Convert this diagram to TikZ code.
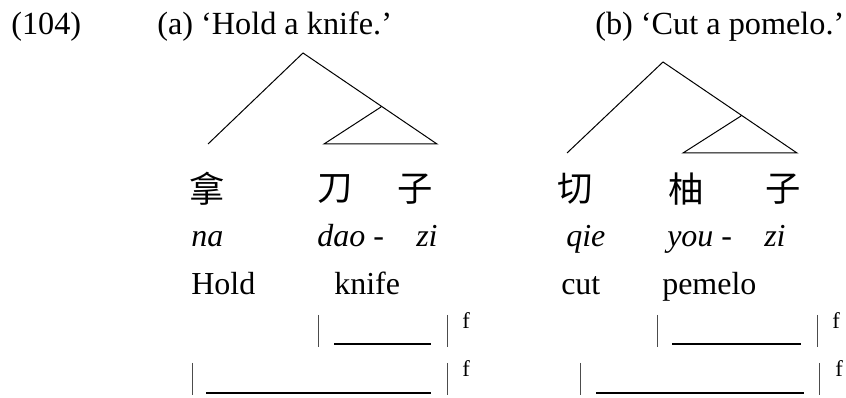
\documentclass[tikz,border=0pt]{standalone}
\usepackage{fontspec}
\setmainfont{Liberation Serif}
\newfontfamily\cjk{Noto Sans CJK SC}
\begin{document}
\begin{tikzpicture}[x=0.75pt,y=-0.75pt,
  txt/.style={inner sep=0pt, anchor=base west, font=\fontsize{24}{28}\selectfont},
  ttl/.style={inner sep=0pt, anchor=base west, font=\fontsize{24.2}{28}\selectfont},
  itx/.style={inner sep=0pt, anchor=base west, font=\fontsize{24}{28}\selectfont\itshape},
  han/.style={inner sep=0pt, anchor=center, font=\fontsize{26.5}{30}\selectfont\cjk},
  supf/.style={inner sep=0pt, anchor=base west, font=\fontsize{17}{20}\selectfont},
  branch/.style={line width=0.75pt},
  uline/.style={line width=1.6pt},
  barline/.style={line width=0.7pt, black!70}]
\useasboundingbox (0,0) rectangle (846,398);
% titles
\node[ttl] (num) at (11,35) {(104)};
\node[ttl] (ta) at (157,35) {(a) ‘Hold a knife.’};
\node[ttl] (tb) at (595,35) {(b) ‘Cut a pomelo.’};
% tree a
\coordinate (aR) at (303,53);
\coordinate (aN) at (381,107);
\coordinate (aL1) at (208,144);
\coordinate (aL2) at (324,144);
\coordinate (aL3) at (437,144);
\draw[branch] (aL1) -- (aR) -- (aL3) -- (aL2) -- (aN);
% tree b
\coordinate (bR) at (663,62);
\coordinate (bN) at (741,116);
\coordinate (bL1) at (567,153);
\coordinate (bL2) at (683,153);
\coordinate (bL3) at (797,153);
\draw[branch] (bL1) -- (bR) -- (bL3) -- (bL2) -- (bN);
% chinese
\node[han] (na) at (207,189) {拿};
\node[han] (dao) at (335,189) {刀};
\node[han] (zia) at (415,189) {子};
\node[han] (qie) at (575,189) {切};
\node[han] (you) at (686,189) {柚};
\node[han] (zib) at (783,189) {子};
% pinyin
\node[itx] (pna) at (191,247) {na};
\node[itx] (pdao) at (317,247) {dao -};
\node[itx] (pzia) at (416,247) {zi};
\node[itx] (pqie) at (566,247) {qie};
\node[itx] (pyou) at (667,247) {you -};
\node[itx] (pzib) at (764,247) {zi};
% gloss
\node[txt] (ghold) at (191,295) {Hold};
\node[txt] (gknife) at (334,295) {knife};
\node[txt] (gcut) at (561,295) {cut};
\node[txt] (gpem) at (662,295) {pemelo};
% bracket rows a
\coordinate (a1lt) at (318,315); \coordinate (a1lb) at (318,347);
\coordinate (a1rt) at (447,315); \coordinate (a1rb) at (447,347);
\coordinate (a1us) at (334,344); \coordinate (a1ue) at (431,344);
\draw[barline] (a1lt) -- (a1lb);
\draw[barline] (a1rt) -- (a1rb);
\draw[uline] (a1us) -- (a1ue);
\node[supf] (fa1) at (462,329) {f};
\coordinate (a2lt) at (192,363); \coordinate (a2lb) at (192,395);
\coordinate (a2rt) at (447,363); \coordinate (a2rb) at (447,395);
\coordinate (a2us) at (206,393); \coordinate (a2ue) at (431,393);
\draw[barline] (a2lt) -- (a2lb);
\draw[barline] (a2rt) -- (a2rb);
\draw[uline] (a2us) -- (a2ue);
\node[supf] (fa2) at (462,377) {f};
% bracket rows b
\coordinate (b1lt) at (657,315); \coordinate (b1lb) at (657,347);
\coordinate (b1rt) at (817,315); \coordinate (b1rb) at (817,347);
\coordinate (b1us) at (672,344); \coordinate (b1ue) at (801,344);
\draw[barline] (b1lt) -- (b1lb);
\draw[barline] (b1rt) -- (b1rb);
\draw[uline] (b1us) -- (b1ue);
\node[supf] (fb1) at (832,329) {f};
\coordinate (b2lt) at (580,363); \coordinate (b2lb) at (580,395);
\coordinate (b2rt) at (819,363); \coordinate (b2rb) at (819,395);
\coordinate (b2us) at (596,393); \coordinate (b2ue) at (804,393);
\draw[barline] (b2lt) -- (b2lb);
\draw[barline] (b2rt) -- (b2rb);
\draw[uline] (b2us) -- (b2ue);
\node[supf] (fb2) at (835,377) {f};
\end{tikzpicture}
\end{document}
